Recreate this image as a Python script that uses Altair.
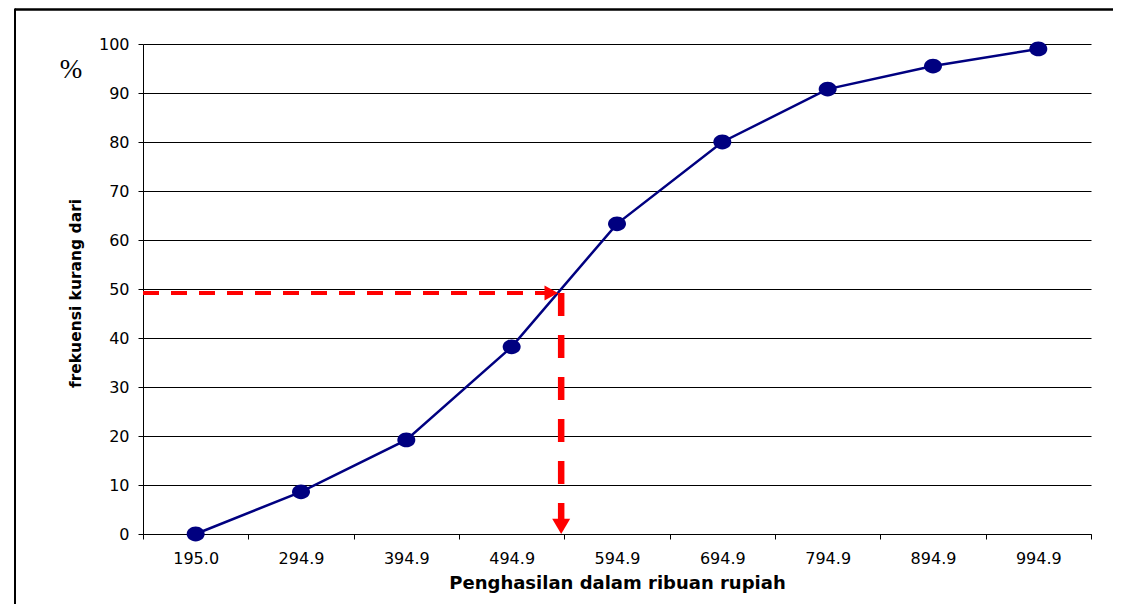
import altair as alt
import pandas as pd

# --- data ---
income_labels = ["195.0", "294.9", "394.9", "494.9", "594.9", "694.9", "794.9", "894.9", "994.9"]
cum_percent = [0.0, 8.6, 19.2, 38.2, 63.3, 80.0, 90.8, 95.5, 99.0]

# median read-off (x in category-index units, y in percent)
median_x = [3.47]
median_y = [49.2]
horiz_start = [-0.5]
horiz_tip = [3.44]
axis_zero = [0.0]

NAVY = "#000080"
RED = "#FF0000"
W, H = 948, 490

df = pd.DataFrame({"label": income_labels, "pct": cum_percent})
med = pd.DataFrame({"mx": median_x, "my": median_y, "hx0": horiz_start,
                    "htip": horiz_tip, "y0": axis_zero})
one = pd.DataFrame({"a": [0]})

bandscale = alt.Scale(type="band", paddingInner=0, paddingOuter=0)
xband = alt.X("label:N", sort=income_labels, scale=bandscale,
              axis=alt.Axis(title="Penghasilan dalam ribuan rupiah", tickBand="extent",
                            labelAngle=0, labelFont="DejaVu Sans", labelFontSize=16,
                            labelColor="black", labelPadding=11, tickSize=5,
                            tickColor="black", domainColor="black", grid=False,
                            titleFont="DejaVu Sans", titleFontSize=18, titleFontWeight="bold",
                            titleColor="black", titleY=40, titleBaseline="top"))
yscale = alt.Scale(domain=[0, 100], nice=False)
yax = alt.Axis(title="frekuensi kurang dari", values=list(range(0, 101, 10)),
               labelFont="DejaVu Sans", labelFontSize=16, labelColor="black",
               labelPadding=9, tickSize=5, tickColor="black", domainColor="black",
               grid=True, gridColor="black", gridWidth=1,
               titleFont="DejaVu Sans", titleFontSize=15.5, titleFontWeight="bold",
               titleColor="black", titleAngle=-90, titleX=-68, titleY=249,
               titleAlign="center", titleBaseline="middle")

base = alt.Chart(df)
line = base.mark_line(color=NAVY, strokeWidth=2.5).encode(
    x=xband, y=alt.Y("pct:Q", scale=yscale, axis=yax))
pts = base.mark_point(shape="M-1,0A1,0.82,0,1,1,1,0A1,0.82,0,1,1,-1,0Z", size=324,
                      filled=True, opacity=1, color=NAVY).encode(
    x=alt.X("label:N", sort=income_labels, scale=bandscale, axis=None),
    y=alt.Y("pct:Q", scale=yscale))

xq = alt.Scale(domain=[-0.5, 8.5], nice=False, zero=False)
m = alt.Chart(med)
hline = m.mark_rule(color=RED, strokeWidth=4, strokeDash=[16, 12]).encode(
    x=alt.X("hx0:Q", scale=xq, axis=None), x2="htip:Q",
    y=alt.Y("my:Q", scale=yscale))
harrow = m.mark_point(shape="M-1.8,-1L0,0L-1.8,1Z", size=225, filled=True,
                      opacity=1, color=RED).encode(
    x=alt.X("htip:Q", scale=xq, axis=None), y=alt.Y("my:Q", scale=yscale))
vline = m.mark_rule(color=RED, strokeWidth=6.5, strokeDash=[23, 19]).encode(
    x=alt.X("mx:Q", scale=xq, axis=None),
    y=alt.Y("my:Q", scale=yscale), y2="y0:Q")
varrow = m.mark_point(shape="M-1,-1.7L1,-1.7L0,0Z", size=324, filled=True,
                      opacity=1, color=RED).encode(
    x=alt.X("mx:Q", scale=xq, axis=None), y=alt.Y("y0:Q", scale=yscale))

pct = alt.Chart(one).mark_text(text="%", font="Liberation Serif", fontSize=27,
                               color="black", baseline="middle", align="center").encode(
    x=alt.value(-72), y=alt.value(26))
frame_top = alt.Chart(one).mark_rule(color="black", strokeWidth=2.5).encode(
    x=alt.value(-128), x2=alt.value(W + 22), y=alt.value(-34.5))
frame_left = alt.Chart(one).mark_rule(color="black", strokeWidth=2).encode(
    x=alt.value(-128), y=alt.value(-35.5), y2=alt.value(H + 70))

chart = alt.layer(line, pts, hline, vline, harrow, varrow, pct, frame_top, frame_left
                  ).resolve_scale(x="independent").properties(
    width=W, height=H, autosize="none",
    padding={"left": 135, "top": 36, "right": 22, "bottom": 70},
    background="white"
).configure_view(stroke=None)

chart.save("out.html", embed_options={"renderer": "svg", "actions": False})
